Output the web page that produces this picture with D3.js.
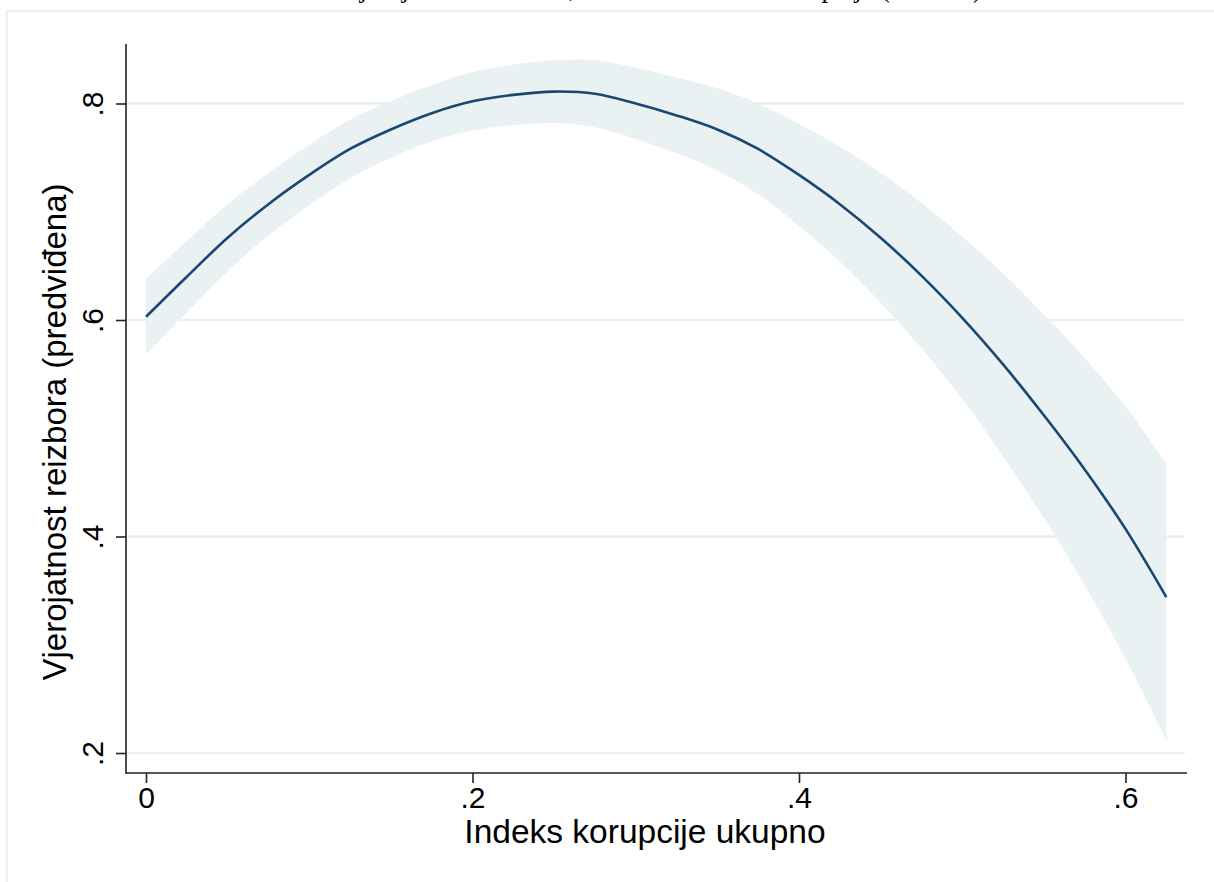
<!DOCTYPE html>
<html>
<head>
<meta charset="utf-8">
<script src="https://cdn.jsdelivr.net/npm/d3@7"></script>
<style>
  html, body { margin: 0; padding: 0; background: #ffffff; overflow: hidden; }
  svg { display: block; }
  text { font-family: "Liberation Sans", Arial, sans-serif; fill: #000; }
</style>
</head>
<body>
<svg id="chart" width="1214" height="882"></svg>
<script>
// ---- data ----
const xValues   = [0, .025, .05, .075, .1, .125, .15, .175, .2, .225, .25, .275, .3, .325, .35, .375, .4, .425, .45, .475, .5, .525, .55, .575, .6, .625];
const predicted = [.603, .640, .676, .707, .734, .758, .776, .791, .802, .808, .811, .809, .800, .789, .776, .758, .734, .707, .676, .641, .602, .559, .512, .462, .407, .344];
const ciUpper   = [.638, .673, .707, .736, .762, .785, .802, .817, .829, .836, .840, .840, .833, .824, .814, .800, .781, .760, .736, .708, .677, .643, .605, .565, .520, .467];
const ciLower   = [.568, .607, .645, .678, .706, .731, .750, .765, .775, .780, .782, .778, .767, .754, .738, .716, .687, .654, .616, .574, .527, .474, .417, .355, .287, .212];

const xTicks = [0, .2, .4, .6];
const xTickLabels = ["0", ".2", ".4", ".6"];
const yTicks = [.2, .4, .6, .8];
const yTickLabels = [".2", ".4", ".6", ".8"];

const titleText = "Predviđena vjerojatnost reizbora, ovisno o indeksu korupcije (95% CI)";
const xTitle = "Indeks korupcije ukupno";
const yTitle = "Vjerojatnost reizbora (predviđena)";

// ---- layout ----
const svg = d3.select("#chart");
const plotLeft = 126, plotRight = 1187, plotTop = 44, plotBottom = 773;
const lineColor = "#1a476f";
const lightColor = "#e9f1f3";

const x = d3.scaleLinear().domain([0, 0.6]).range([146, 1125.5]);
const y = d3.scaleLinear().domain([0.2, 0.8]).range([753, 103.5]);

// outer graph region border
svg.append("rect")
  .attr("x", 7).attr("y", 11).attr("width", 1230).attr("height", 900)
  .attr("fill", "none").attr("stroke", lightColor).attr("stroke-width", 2.5);

// title (mostly cut off at the top of the picture)
svg.append("text")
  .attr("x", 600).attr("y", -3)
  .attr("text-anchor", "middle")
  .style("font-family", "'Liberation Serif', 'Times New Roman', serif")
  .style("font-size", "27px")
  .text(titleText);

// gridlines
svg.append("g").selectAll("line").data(yTicks).join("line")
  .attr("x1", plotLeft).attr("x2", plotRight - 2)
  .attr("y1", d => y(d)).attr("y2", d => y(d))
  .attr("stroke", lightColor).attr("stroke-width", 2.5);

// CI band
const pts = xValues.map((v, i) => ({x: v, p: predicted[i], lo: ciLower[i], hi: ciUpper[i]}));
svg.append("path").datum(pts)
  .attr("fill", lightColor)
  .attr("d", d3.area().x(d => x(d.x)).y0(d => y(d.lo)).y1(d => y(d.hi)).curve(d3.curveCatmullRom));

// predicted line
svg.append("path").datum(pts)
  .attr("fill", "none").attr("stroke", lineColor).attr("stroke-width", 2.6)
  .attr("d", d3.line().x(d => x(d.x)).y(d => y(d.p)).curve(d3.curveCatmullRom));

// axes
const yAxis = svg.append("g").attr("transform", `translate(${plotLeft},0)`)
  .call(d3.axisLeft(y).tickValues(yTicks).tickFormat((d, i) => yTickLabels[i]).tickSize(10).tickPadding(0));
yAxis.select(".domain").remove();
yAxis.selectAll(".tick line").attr("stroke", "#222").attr("stroke-width", 1.6);
yAxis.selectAll(".tick text")
  .attr("x", null).attr("dy", null)
  .attr("text-anchor", "middle")
  .attr("transform", "translate(-23,0) rotate(-90)")
  .style("font-size", "30px")
  .style("font-family", "'Liberation Sans', Arial, sans-serif")
  .attr("fill", "#000");

const xAxis = svg.append("g").attr("transform", `translate(0,${plotBottom})`)
  .call(d3.axisBottom(x).tickValues(xTicks).tickFormat((d, i) => xTickLabels[i]).tickSize(10).tickPadding(0));
xAxis.select(".domain").remove();
xAxis.selectAll(".tick line").attr("stroke", "#222").attr("stroke-width", 1.6);
xAxis.selectAll(".tick text")
  .attr("y", 35).attr("dy", null)
  .style("font-size", "30px")
  .style("font-family", "'Liberation Sans', Arial, sans-serif")
  .attr("fill", "#000");

// axis lines
svg.append("line").attr("x1", plotLeft).attr("x2", plotLeft).attr("y1", plotTop).attr("y2", plotBottom + 0.8)
  .attr("stroke", "#222").attr("stroke-width", 1.6);
svg.append("line").attr("x1", plotLeft).attr("x2", plotRight).attr("y1", plotBottom).attr("y2", plotBottom)
  .attr("stroke", "#222").attr("stroke-width", 1.6);

// axis titles
svg.append("text")
  .attr("x", 645).attr("y", 843)
  .attr("text-anchor", "middle")
  .style("font-size", "33.5px")
  .text(xTitle);

svg.append("text")
  .attr("transform", `translate(66,432) rotate(-90)`)
  .attr("text-anchor", "middle")
  .style("font-size", "33px")
  .text(yTitle);
</script>
</body>
</html>
